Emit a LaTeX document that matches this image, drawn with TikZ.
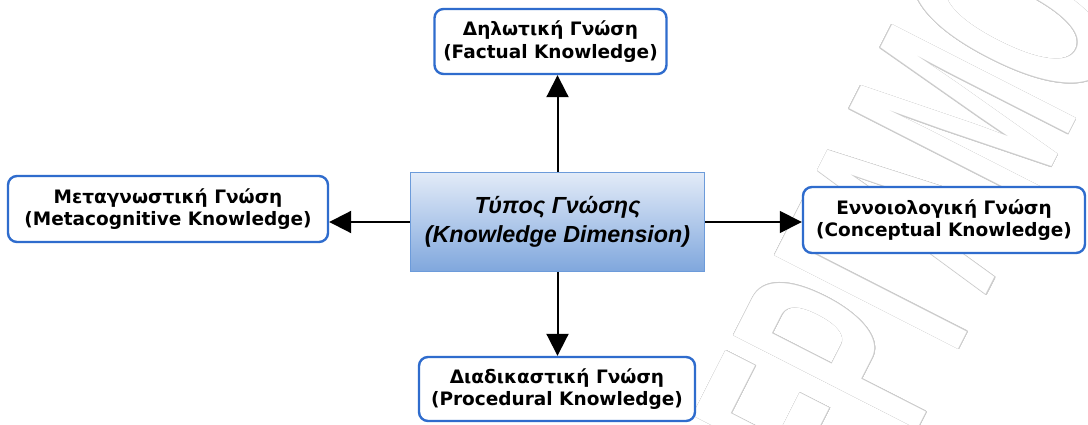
\documentclass[tikz,border=0pt]{standalone}
\usepackage{fontspec}
\setmainfont{Liberation Sans}
\newfontfamily\boxfont{DejaVu Sans}
\usepackage{contour}
\contourlength{0.7pt}
\usetikzlibrary{arrows.meta}
\definecolor{boxblue}{HTML}{2F6CCD}
\definecolor{dimborder}{HTML}{6C9BDA}
\definecolor{dimtop}{HTML}{E2EBF8}
\definecolor{dimbottom}{HTML}{80A7DD}
\tikzset{
  knowbox/.style={draw=boxblue, line width=2.4pt, rounded corners=9pt, fill=white,
    font=\boxfont\fontsize{18.5}{22.5}\selectfont\bfseries, align=center, inner sep=0pt},
  dimbox/.style={draw=dimborder, line width=1.5pt, top color=dimtop, bottom color=dimbottom,
    font=\fontsize{23.3}{29}\selectfont\bfseries\itshape, align=center, inner sep=0pt},
  link/.style={line width=2pt, -{Triangle[length=22pt,width=22pt]}},
  stamp/.style={rotate=63, inner sep=0pt, font=\fontsize{300}{300}\selectfont\bfseries}
}
\begin{document}
\begin{tikzpicture}[x=1pt,y=-1pt]
  \useasboundingbox (0,0) rectangle (1088,425);
  \fill[white] (0,0) rectangle (1088,425);
  % faint outlined stamp in the background
  \begin{scope}
    \clip (0,0) rectangle (1088,425);
    \node[stamp] (stampword) at (905,228)
      {\scalebox{0.45}[1]{\color{white}\contour{black!20}{ΠΕΡΓΑΜΟΣ}}};
  \end{scope}
  % the five boxes
  \node[knowbox, minimum width=232pt, minimum height=65pt] (fact) at (550.5,41.5)
    {Δηλωτική Γνώση\\(Factual Knowledge)};
  \node[dimbox, minimum width=294pt, minimum height=99pt] (dim) at (557.5,222)
    {Τύπος Γνώσης\\(Knowledge Dimension)};
  \node[knowbox, minimum width=320pt, minimum height=66pt] (meta) at (168,209)
    {Μεταγνωστική Γνώση\\(Metacognitive Knowledge)};
  \node[knowbox, minimum width=282pt, minimum height=66pt] (conc) at (944,220)
    {Εννοιολογική Γνώση\\(Conceptual Knowledge)};
  \node[knowbox, minimum width=276pt, minimum height=64pt] (proc) at (557,389)
    {Διαδικαστική Γνώση\\(Procedural Knowledge)};
  % connectors from the central box
  \draw[link] (dim.north) -- (dim.north |- fact.south);
  \draw[link] (dim.south) -- (dim.south |- proc.north);
  \draw[link] (dim.west) -- (dim.west -| meta.east);
  \draw[link, line width=1.5pt] (dim.east) -- (dim.east -| conc.west);
\end{tikzpicture}
\end{document}
